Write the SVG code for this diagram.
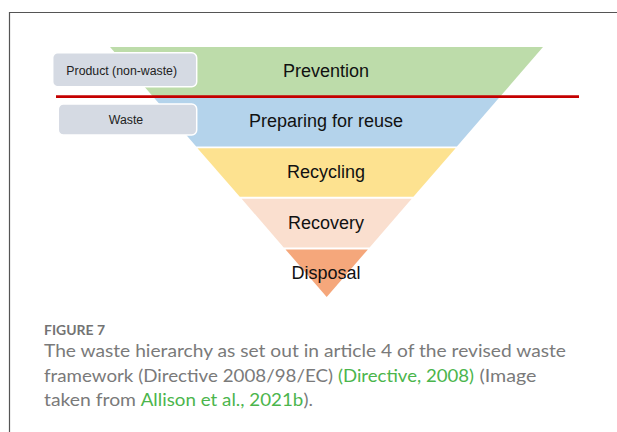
<svg xmlns="http://www.w3.org/2000/svg" width="617" height="432" viewBox="0 0 617 432">
<style>
.frame{fill:none;stroke:#555;stroke-width:1.2}
.band{stroke:none}
.lbl{font-family:"Liberation Sans",Arial,sans-serif;font-size:18px;fill:#111;text-anchor:middle}
.box rect{fill:#d5dae3;stroke:#fff;stroke-width:1.5}
.box text{font-family:"Liberation Sans",Arial,sans-serif;font-size:12.3px;fill:#222;text-anchor:middle}
.cap{font-family:Lato,"Liberation Sans",sans-serif;font-size:17.5px;fill:#7a7a7a}
.link{fill:#4bb54c}
.fig{font-family:Lato,"Liberation Sans",sans-serif;font-size:13.5px;font-weight:bold;fill:#737373}
</style>
<rect width="617" height="432" fill="#fff"/>
<path class="frame" d="M9.5,432 V12.5 H617"/>
<g id="prevention">
<polygon class="band" fill="#bddcaa" points="110,47 543,47 500.6,96 152.5,96"/>
<text class="lbl" x="326" y="77.3">Prevention</text>
</g>
<g id="reuse">
<polygon class="band" fill="#b4d3eb" points="153.8,97.5 499.3,97.5 456.9,146.5 196.2,146.5"/>
<text class="lbl" x="326" y="127.3">Preparing for reuse</text>
</g>
<g id="recycling">
<polygon class="band" fill="#fde290" points="197.5,148.2 455.6,148.2 413.4,196.8 239.8,196.8"/>
<text class="lbl" x="326" y="178.3">Recycling</text>
</g>
<g id="recovery">
<polygon class="band" fill="#fadfcf" points="241.6,198.8 411.7,198.8 369.6,247.4 283.7,247.4"/>
<text class="lbl" x="326" y="229.3">Recovery</text>
</g>
<g id="disposal">
<polygon class="band" fill="#f5a77b" points="285.5,249.4 367.9,249.4 326.7,297"/>
<text class="lbl" x="326" y="279.3">Disposal</text>
</g>
<g id="connectors">
<line x1="56" y1="96.7" x2="579" y2="96.7" stroke="#c40000" stroke-width="2.8"/>
</g>
<g id="product-box" class="box">
<rect x="52.7" y="52.7" width="144" height="34" rx="5"/>
<text x="121.7" y="75">Product (non-waste)</text>
</g>
<g id="waste-box" class="box">
<rect x="58.3" y="104" width="138.4" height="31" rx="5"/>
<text x="126" y="124">Waste</text>
</g>
<g id="caption">
<text class="fig" x="44" y="335" textLength="61" lengthAdjust="spacingAndGlyphs">FIGURE 7</text>
<text class="cap" x="44" y="357" textLength="522" lengthAdjust="spacingAndGlyphs">The waste hierarchy as set out in article 4 of the revised waste</text>
<text class="cap" x="44" y="381.5" textLength="289" lengthAdjust="spacingAndGlyphs">framework (Directive 2008/98/EC)</text>
<text class="cap link" x="338" y="381.5" textLength="136" lengthAdjust="spacingAndGlyphs">(Directive, 2008)</text>
<text class="cap" x="479.5" y="381.5" textLength="57" lengthAdjust="spacingAndGlyphs">(Image</text>
<text class="cap" x="44" y="406" textLength="92" lengthAdjust="spacingAndGlyphs">taken from</text>
<text class="cap link" x="140.7" y="406" textLength="162.6" lengthAdjust="spacingAndGlyphs">Allison et al., 2021b</text>
<text class="cap" x="303.5" y="406" textLength="9.5" lengthAdjust="spacingAndGlyphs">).</text>
</g>
</svg>
